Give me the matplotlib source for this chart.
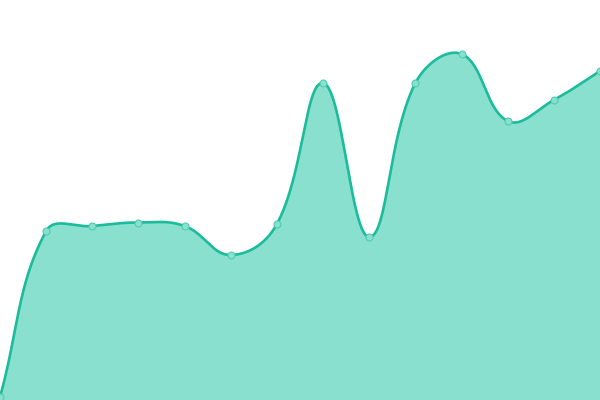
import numpy as np
import matplotlib.pyplot as plt

values = [3, 169, 174, 177.5, 174, 145, 176, 317, 163, 317, 346, 279, 300, 329]
x_idx = list(range(len(values)))

line_color = '#1abc9c'
fill_color = '#8ae0ce'

W, H = 600, 400
ymax = 400
sx = W / (len(values) - 1)
sy = H / ymax


def spline_ctrl(prev, cur, nxt, t=0.4):
    # same idea as chart.js splineCurve, in pixel space
    d01 = np.hypot(cur[0] - prev[0], cur[1] - prev[1])
    d12 = np.hypot(nxt[0] - cur[0], nxt[1] - cur[1])
    tot = d01 + d12
    s01 = d01 / tot if tot else 0
    s12 = d12 / tot if tot else 0
    fa, fb = t * s01, t * s12
    c_prev = (cur[0] - fa * (nxt[0] - prev[0]), cur[1] - fa * (nxt[1] - prev[1]))
    c_next = (cur[0] + fb * (nxt[0] - prev[0]), cur[1] + fb * (nxt[1] - prev[1]))
    return c_prev, c_next


pts = [(i * sx, v * sy) for i, v in zip(x_idx, values)]
ctrls = []
for i, p in enumerate(pts):
    prev = pts[i - 1] if i > 0 else p
    nxt = pts[i + 1] if i < len(pts) - 1 else p
    ctrls.append(spline_ctrl(prev, p, nxt))

xs, ys = [], []
tt = np.linspace(0, 1, 60)
for i in range(len(pts) - 1):
    p0 = np.array(pts[i])
    p1 = np.array(ctrls[i][1])
    p2 = np.array(ctrls[i + 1][0])
    p3 = np.array(pts[i + 1])
    seg = ((1 - tt) ** 3)[:, None] * p0 + (3 * (1 - tt) ** 2 * tt)[:, None] * p1 \
        + (3 * (1 - tt) * tt ** 2)[:, None] * p2 + (tt ** 3)[:, None] * p3
    xs.extend(seg[:, 0] / sx)
    ys.extend(seg[:, 1] / sy)

fig = plt.figure(figsize=(6, 4), dpi=100)
ax = fig.add_axes([0, 0, 1, 1])
ax.fill_between(xs, ys, 0, color=fill_color, lw=0)
ax.plot(xs, ys, color=line_color, lw=1.9, solid_capstyle='round')
ax.plot(x_idx, values, 'o', ms=5, mfc=fill_color, mec='#4fcdb3', mew=0.8)
ax.set_xlim(0, len(values) - 1)
ax.set_ylim(0, ymax)
ax.axis('off')

fig.savefig('out.png', dpi=100)
